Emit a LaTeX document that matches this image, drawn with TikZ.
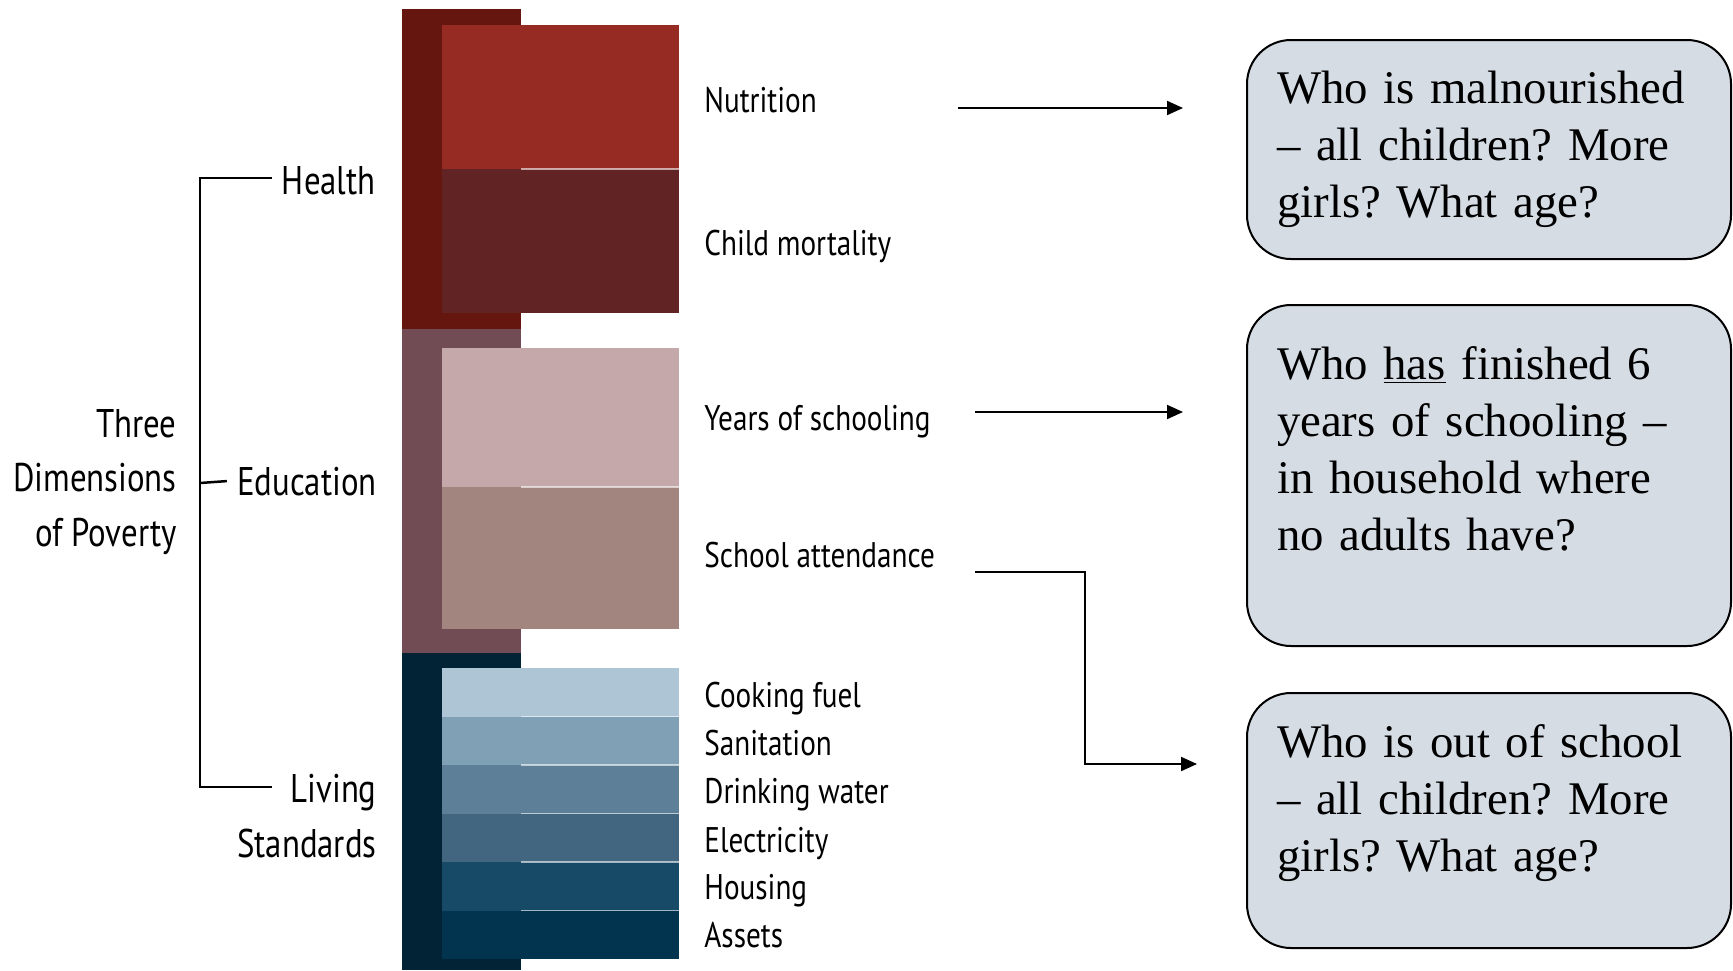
\documentclass[tikz,border=0pt]{standalone}
\usepackage{fontspec}
\setmainfont{Liberation Serif}
\newfontfamily\labelfont[FakeStretch=0.82]{PT Sans}
\usetikzlibrary{arrows.meta}

\definecolor{healthbar}{RGB}{101,23,15}
\definecolor{nutr}{RGB}{149,43,34}
\definecolor{mort}{RGB}{98,35,37}
\definecolor{edubar}{RGB}{113,76,85}
\definecolor{yrs}{RGB}{197,168,170}
\definecolor{att}{RGB}{163,133,127}
\definecolor{livbar}{RGB}{2,34,54}
\definecolor{cook}{RGB}{174,197,213}
\definecolor{sani}{RGB}{127,160,181}
\definecolor{water}{RGB}{94,127,152}
\definecolor{elec}{RGB}{66,102,128}
\definecolor{hous}{RGB}{23,74,102}
\definecolor{asse}{RGB}{2,52,79}
\definecolor{qfill}{RGB}{213,220,228}

\begin{document}
\frenchspacing
\begin{tikzpicture}[x=0.5pt, y=-0.5pt,
    dimlabel/.style={font=\labelfont\fontsize{20pt}{27.25pt}\selectfont, inner sep=0pt},
    indlabel/.style={font=\labelfont\fontsize{17.8pt}{22pt}\selectfont, anchor=base west, inner sep=0pt},
    question/.style={draw=black, line width=1pt, fill=qfill, rounded corners=22pt, anchor=north west, minimum width=242pt, text width=212pt, inner xsep=15pt, inner ysep=0pt, align=left, font=\fontsize{23.4pt}{28.5pt}\selectfont},
    arrow/.style={-{Triangle[length=8pt,width=7pt]}, line width=1pt},
    bracket/.style={line width=1.25pt}
]
    \useasboundingbox (0,0) rectangle (1733,970);

    % dimension bars
    \fill[healthbar] (402,9) rectangle (521,329);
    \fill[edubar] (402,329) rectangle (521,653);
    \fill[livbar] (402,653) rectangle (521,970);

    % indicator strips
    \fill[nutr] (442,25) rectangle (679,169);
    \fill[mort] (442,169) rectangle (679,313);
    \fill[yrs] (442,348) rectangle (679,487);
    \fill[att] (442,487) rectangle (679,629);
    \foreach \c [count=\i from 0] in {cook,sani,water,elec,hous,asse}
        \fill[\c] (442,668+48.5*\i) rectangle (679,716.5+48.5*\i);
    \foreach \y in {169,487,716.5,765,813.5,862,910.5}
        \draw[white, opacity=0.6, line width=0.8pt] (521,\y) -- (679,\y);

    % left labels
    \node[dimlabel, anchor=base east, align=right] (three) at (177,546) {Three\\Dimensions\\of Poverty};
    \node[dimlabel, anchor=base east] (health) at (376,194) {Health};
    \node[dimlabel, anchor=base east] (edu) at (377,495) {Education};
    \node[dimlabel, anchor=base east, align=right] (living) at (377,857) {Living\\Standards};

    \coordinate (br-top) at (200,178);
    \coordinate (br-mid) at (200,483);
    \coordinate (br-bot) at (200,787);
    \draw[bracket] ([xshift=36pt]br-top) -- (br-top) -- (br-bot) -- ++(72,0);
    \draw[bracket] (br-mid) -- ([xshift=-5pt]edu.west);

    % indicator labels
    \node[indlabel] (l-nutr) at (704,112) {Nutrition};
    \node[indlabel] (l-mort) at (704,255) {Child mortality};
    \node[indlabel] (l-yrs) at (704,430) {Years of schooling};
    \node[indlabel] (l-att) at (704,567) {School attendance};
    \node[indlabel] (l-cook) at (704,707) {Cooking fuel};
    \node[indlabel] (l-sani) at (704,755) {Sanitation};
    \node[indlabel] (l-water) at (704,803) {Drinking water};
    \node[indlabel] (l-elec) at (704,852) {Electricity};
    \node[indlabel] (l-hous) at (704,899) {Housing};
    \node[indlabel] (l-asse) at (704,947) {Assets};

    % questions
    \node[question, minimum height=109.5pt] (q-nutr) at (1246,39) {Who is malnourished\\– all children? More\\girls? What age?};
    \node[question, minimum height=170.5pt] (q-yrs) at (1246,304) {Who \underline{has} finished 6\\years of schooling –\\in household where\\no adults have?\rule[-27pt]{0pt}{27pt}};
    \node[question, minimum height=127.5pt] (q-att) at (1246,692) {Who is out of school\\– all children? More\\girls? What age?\rule[-22pt]{0pt}{22pt}};

    \coordinate (a1s) at (958,108);
    \coordinate (a1e) at (1183,108);
    \coordinate (a2s) at (975,412);
    \coordinate (a2e) at (1183,412);
    \coordinate (a3s) at (975,572);
    \coordinate (a3k) at (1085,764);
    \coordinate (a3e) at (1197,764);
    \draw[arrow] (a1s) -- (a1e);
    \draw[arrow] (a2s) -- (a2e);
    \draw[arrow] (a3s) -| (a3k) -- (a3e);
\end{tikzpicture}
\end{document}
